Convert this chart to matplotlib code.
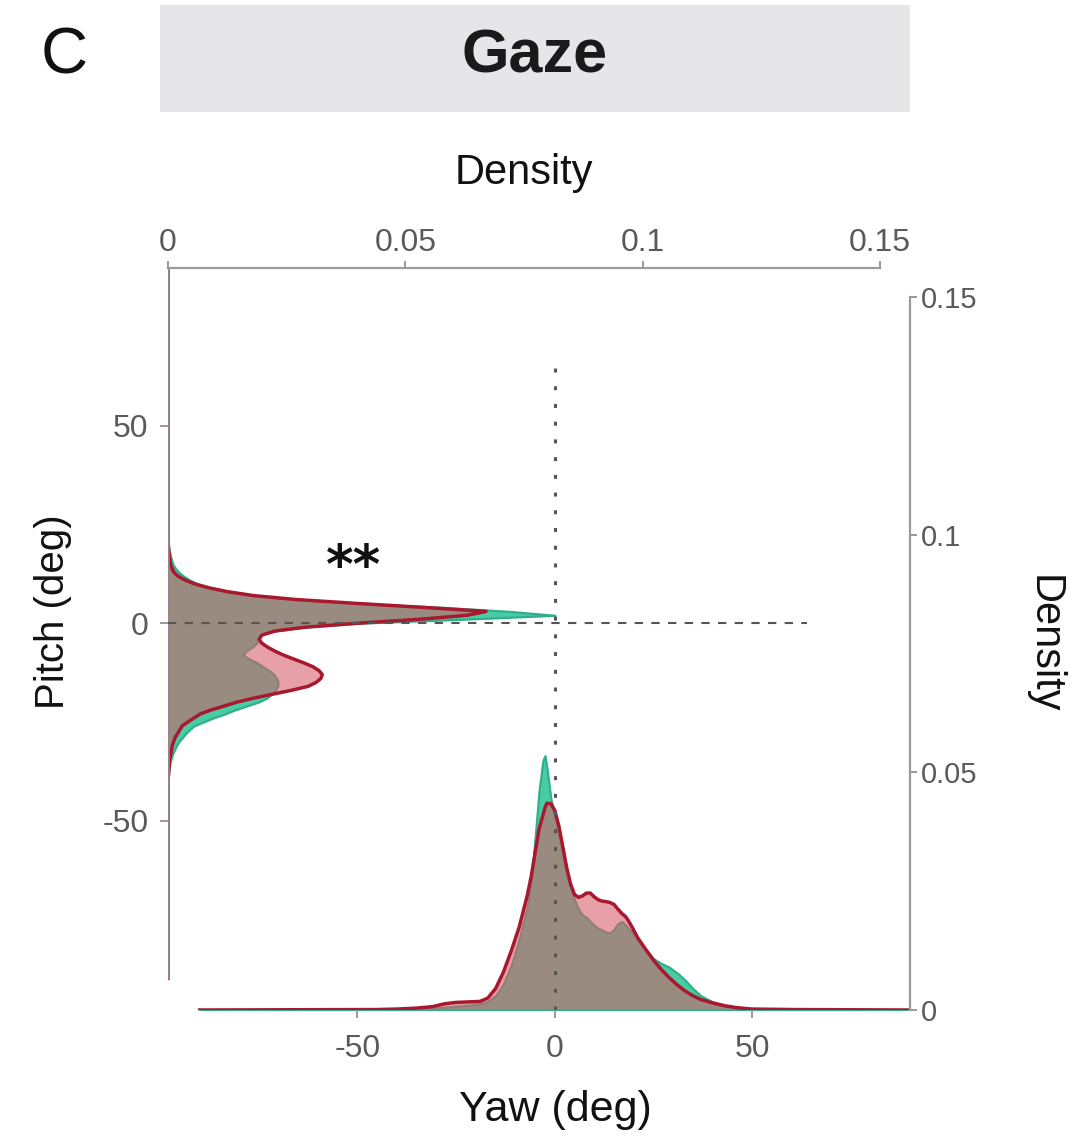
import matplotlib
matplotlib.use("Agg")
import matplotlib.pyplot as plt
from matplotlib.patches import Rectangle

plt.rcParams['font.family'] = ['Liberation Sans', 'DejaVu Sans']
plt.rcParams['axes.unicode_minus'] = False

W, H = 1080, 1142

# pitch marginal density (deg -> density)
pitch_deg = [-90, -40, -37, -35, -33, -31, -30, -29, -28, -27, -26, -25, -24, -23, -22, -21,
             -20, -19, -18, -17, -16, -15, -14, -13, -12, -11, -10, -9, -8, -7, -6, -5,
             -4, -3, -2, -1, 0, 1, 2, 3, 4, 5, 6, 7, 8, 9, 10, 11, 12, 13, 14, 15, 17,
             19, 21, 90]
pitch_ctrl = [0, 0, 0.0002, 0.0005, 0.0010, 0.0018, 0.0023, 0.0030, 0.0037, 0.0045, 0.0055,
              0.0075, 0.0095, 0.0120, 0.0140, 0.0165, 0.0190, 0.0208, 0.0218, 0.0226, 0.0231,
              0.0232, 0.0229, 0.0223, 0.0213, 0.0200, 0.0187, 0.0170, 0.0158, 0.0165, 0.0178,
              0.0187, 0.0190, 0.0195, 0.0220, 0.0285, 0.0400, 0.0620, 0.0815, 0.0720, 0.0580,
              0.0400, 0.0270, 0.0185, 0.0130, 0.0090, 0.0062, 0.0045, 0.0032, 0.0022, 0.0015,
              0.0010, 0.0005, 0.0002, 0.0, 0]
pitch_test = [0, 0, 0.0002, 0.0003, 0.0006, 0.0009, 0.0012, 0.0015, 0.0020, 0.0025, 0.0030,
              0.0042, 0.0055, 0.0068, 0.0090, 0.0118, 0.0145, 0.0180, 0.0220, 0.0260, 0.0295,
              0.0312, 0.0322, 0.0325, 0.0318, 0.0305, 0.0285, 0.0263, 0.0242, 0.0224, 0.0209,
              0.0197, 0.0192, 0.0198, 0.0225, 0.0290, 0.0400, 0.0530, 0.0630, 0.0670, 0.0540,
              0.0400, 0.0270, 0.0180, 0.0125, 0.0085, 0.0055, 0.0035, 0.0020, 0.0012, 0.0008,
              0.0005, 0.0003, 0.0001, 0.0, 0]

# yaw marginal density (deg -> density)
yaw_deg = [-90, -45, -40, -35, -31, -28, -25, -22, -19, -17, -15, -13, -11, -9, -7, -6, -5,
           -4, -3, -2.5, -2, -1, 0, 1, 2, 3, 4, 5, 6, 7, 8, 9, 10, 11, 12, 13, 14, 15, 16,
           17, 18, 19, 20, 21, 23, 25, 27, 29, 31, 33, 35, 37, 40, 43, 46, 50, 60, 90]
yaw_ctrl = [0, 0.0001, 0.0001, 0.0002, 0.0004, 0.0006, 0.0008, 0.0010, 0.0013, 0.0018,
            0.0030, 0.0055, 0.0095, 0.0150, 0.0215, 0.0270, 0.0360, 0.0460, 0.0525, 0.0535,
            0.0510, 0.0445, 0.0405, 0.0370, 0.0330, 0.0290, 0.0255, 0.0232, 0.0212, 0.0200,
            0.0195, 0.0186, 0.0178, 0.0172, 0.0168, 0.0164, 0.0162, 0.0170, 0.0182, 0.0186,
            0.0178, 0.0168, 0.0160, 0.0150, 0.0128, 0.0108, 0.0098, 0.0090, 0.0078, 0.0063,
            0.0045, 0.0030, 0.0017, 0.0010, 0.0005, 0.0002, 0.0001, 0]
yaw_test = [0, 0.0001, 0.0002, 0.0004, 0.0007, 0.0013, 0.0016, 0.0017, 0.0018, 0.0025,
            0.0045, 0.0080, 0.0125, 0.0175, 0.0240, 0.0280, 0.0330, 0.0380, 0.0410, 0.0425,
            0.0435, 0.0434, 0.0420, 0.0388, 0.0345, 0.0300, 0.0265, 0.0243, 0.0237, 0.0240,
            0.0246, 0.0246, 0.0238, 0.0232, 0.0229, 0.0228, 0.0226, 0.0222, 0.0212, 0.0203,
            0.0196, 0.0183, 0.0168, 0.0152, 0.0128, 0.0105, 0.0085, 0.0068, 0.0053, 0.0040,
            0.0030, 0.0022, 0.0015, 0.0009, 0.0005, 0.0002, 0.0001, 0]

ang_lim = (-98, 90)
dens_lim = (0, 0.15)
dens_ticks = [0, 0.05, 0.1, 0.15]
dens_labels = ['0', '0.05', '0.1', '0.15']
ang_ticks = [-50, 0, 50]

teal = '#48cca4'
teal_edge = '#30b08a'
red_face = (0.84, 0.36, 0.41, 0.58)
red_edge = '#a8182e'
axis_grey = '#9a9a9a'
label_grey = '#5a5a5a'


def px_axes(left, top, right, bottom):
    return [left / W, 1 - bottom / H, (right - left) / W, (bottom - top) / H]


fig = plt.figure(figsize=(W / 100, H / 100), dpi=100)

# title strip
fig.patches.append(Rectangle((160 / W, 1 - 112 / H), 750 / W, 107 / H,
                             transform=fig.transFigure, facecolor='#e6e6e8',
                             edgecolor='none', zorder=0))
fig.text(535 / W, 1 - 57 / H, 'Gaze', fontsize=44, fontweight='bold',
         ha='center', va='center', color='#1a1a1a')
fig.text(64 / W, 1 - 56 / H, 'C', fontsize=47, ha='center', va='center', color='#111111')

# yaw density, right axis
ax_y = fig.add_axes(px_axes(168, 297, 910, 1010))
ax_y.fill_between(yaw_deg, 0, yaw_ctrl, facecolor=teal, edgecolor=teal_edge, lw=1.6)
ax_y.fill_between(yaw_deg, 0, yaw_test, facecolor=red_face, edgecolor='none')
ax_y.plot(yaw_deg, yaw_test, color=red_edge, lw=2.5)
ax_y.set_xlim(ang_lim)
ax_y.set_ylim(dens_lim)
ax_y.patch.set_alpha(0)
for s in ['left', 'top', 'bottom']:
    ax_y.spines[s].set_visible(False)
ax_y.spines['right'].set_color(axis_grey)
ax_y.spines['right'].set_linewidth(1.6)
ax_y.set_xticks([])
ax_y.yaxis.tick_right()
ax_y.set_yticks(dens_ticks)
ax_y.set_yticklabels(dens_labels)
ax_y.tick_params(axis='y', direction='out', length=5, width=1.4, color=axis_grey,
                 labelcolor=label_grey, labelsize=21, pad=3)
fig.text(1044 / W, 1 - 644 / H, 'Density', fontsize=30, rotation=270,
         ha='center', va='center', color='#111111')

# pitch density, top axis
ax_p = fig.add_axes(px_axes(168, 268, 880, 1010))
ax_p.fill_betweenx(pitch_deg, 0, pitch_ctrl, facecolor=teal, edgecolor=teal_edge, lw=1.6)
ax_p.fill_betweenx(pitch_deg, 0, pitch_test, facecolor=red_face, edgecolor='none')
ax_p.plot(pitch_test, pitch_deg, color=red_edge, lw=2.5)
ax_p.plot([0, 0], [-90, 90], color='#9c8385', lw=2.6)
ax_p.set_xlim(dens_lim)
ax_p.set_ylim(ang_lim)
ax_p.patch.set_alpha(0)
for s in ['left', 'right', 'bottom']:
    ax_p.spines[s].set_visible(False)
ax_p.spines['top'].set_color(axis_grey)
ax_p.spines['top'].set_linewidth(1.6)
ax_p.set_yticks([])
ax_p.xaxis.tick_top()
ax_p.set_xticks(dens_ticks)
ax_p.set_xticklabels(dens_labels)
ax_p.tick_params(axis='x', direction='out', length=5, width=1.4, color=axis_grey,
                 labelcolor=label_grey, labelsize=23, pad=2)
ax_p.set_xlabel('Density', fontsize=30, labelpad=32, color='#111111')
ax_p.xaxis.set_label_position('top')

# joint angle axes on top: ticks and zero lines
ax = fig.add_axes(px_axes(168, 268, 910, 1010))
ax.set_xlim(ang_lim)
ax.set_ylim(ang_lim)
ax.patch.set_alpha(0)
for s in ax.spines.values():
    s.set_visible(False)
ax.set_xticks(ang_ticks)
ax.set_yticks(ang_ticks)
ax.tick_params(direction='out', length=6, width=1.4, color=axis_grey,
               labelcolor=label_grey, labelsize=23)
ax.tick_params(axis='x', pad=11)
ax.tick_params(axis='y', pad=8)
ax.plot([-98, 64], [0, 0], color='#555555', lw=1.5, linestyle=(0, (4, 4)))
ax.plot([0, 0], [-98, 65], color='#555555', lw=2.2, linestyle=(0, (1.3, 4.5)))
ax.text(-51, 14, '**', fontsize=38, fontweight='bold', ha='center', va='center',
        color='#111111', family='DejaVu Sans')
ax.set_xlabel('Yaw (deg)', fontsize=31, color='#111111')
ax.xaxis.set_label_coords((555 - 168) / 742, (1010 - 1090) / 742)
ax.set_ylabel('Pitch (deg)', fontsize=29, color='#111111')
ax.yaxis.set_label_coords((72 - 168) / 742, (1010 - 612) / 742)

fig.savefig('out.png', dpi=100)
